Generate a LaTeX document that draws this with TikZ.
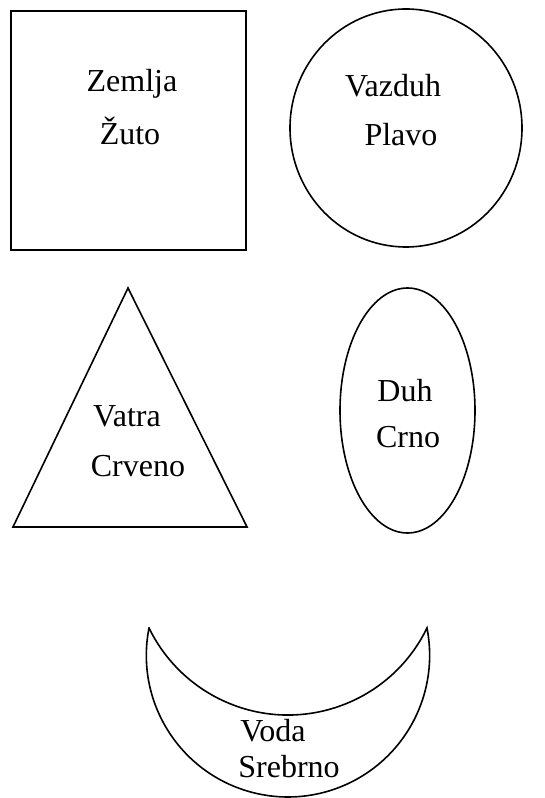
\documentclass[tikz,border=0pt]{standalone}
\usepackage{fontspec}
\setmainfont{Liberation Serif}
\usepackage{tikz}
\usetikzlibrary{positioning, calc}
\tikzset{
  shp/.style={draw, line width=1.6pt},
  lbl/.style={anchor=base, inner sep=0pt, font=\fontsize{32}{38}\selectfont},
}

\begin{document}
\begin{tikzpicture}[x=1pt, y=1pt]
  \useasboundingbox (0,0) rectangle (544,798);

  % Zemlja -- square
  \draw[shp, line width=2pt] (11,548) rectangle (246,787);
  \node[lbl] (zemlja) at (132,706) {Zemlja};
  \node[lbl] (zuto) at (130,653) {Žuto};

  % Vazduh -- circle
  \draw[shp] (406,670) ellipse [x radius=116, y radius=119];
  \node[lbl] (vazduh) at (393,701) {Vazduh};
  \node[lbl] (plavo) at (401,652) {Plavo};

  % Vatra -- triangle
  \draw[shp, line join=miter] (128,510) -- (247,271) -- (13,271) -- cycle;
  \node[lbl] (vatra) at (127,371) {Vatra};
  \node[lbl] (crveno) at (138,321) {Crveno};

  % Duh -- ellipse
  \draw[shp] (407.5,387.5) ellipse [x radius=67.5, y radius=122.5];
  \node[lbl] (duh) at (405,396) {Duh};
  \node[lbl] (crno) at (408,350) {Crno};

  % Voda -- crescent
  \draw[shp] (149,170) arc[start angle=168.87, end angle=371.13, radius=141.66]
    arc[start angle=334.1, end angle=205.9, radius=154.5] -- cycle;
  \node[lbl] (voda) at (273,56) {Voda};
  \node[lbl] (srebrno) at (289,20) {Srebrno};

\end{tikzpicture}
\end{document}
